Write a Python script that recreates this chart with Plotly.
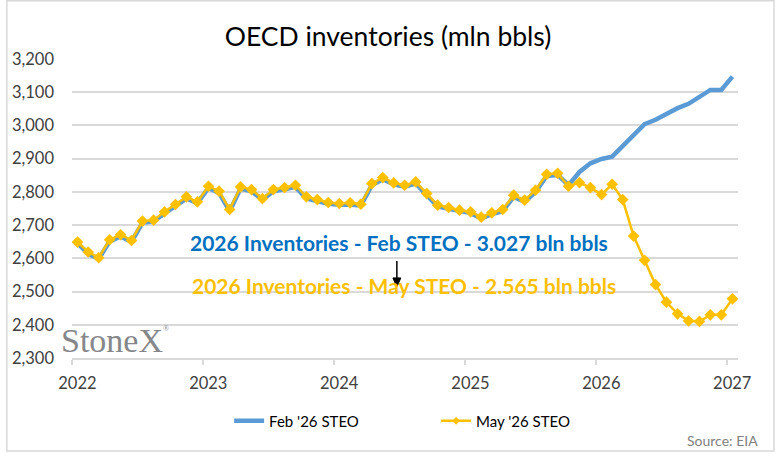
import plotly.graph_objects as go
import pandas as pd

# ---- data ----
months = pd.date_range("2022-01-01", "2027-01-01", freq="MS")

feb_steo = [2645, 2614, 2598, 2651, 2666, 2650, 2707, 2711, 2735, 2757, 2780, 2766,
            2812, 2797, 2742, 2810, 2802, 2776, 2802, 2808, 2815, 2780, 2772, 2764,
            2761, 2762, 2759, 2820, 2838, 2823, 2816, 2825, 2790, 2756, 2749, 2741,
            2736, 2720, 2733, 2742, 2785, 2770, 2800, 2848, 2851, 2820, 2860, 2886,
            2899, 2906, 2939, 2971, 3004, 3017, 3034, 3052, 3065, 3087, 3107, 3107, 3147]

may_steo = [2649, 2619, 2602, 2656, 2671, 2654, 2712, 2715, 2740, 2762, 2785, 2770,
            2817, 2802, 2747, 2815, 2807, 2780, 2807, 2813, 2820, 2785, 2777, 2768,
            2765, 2767, 2763, 2825, 2843, 2827, 2820, 2830, 2795, 2760, 2753, 2745,
            2740, 2724, 2737, 2747, 2790, 2775, 2805, 2853, 2856, 2817, 2828, 2813,
            2792, 2823, 2777, 2667, 2594, 2521, 2468, 2433, 2412, 2410, 2430, 2430, 2478]

year_labels = ["2022", "2023", "2024", "2025", "2026", "2027"]
year_label_pos = [y + "-01-16" for y in year_labels]
year_tick_pos = [y + "-01-01" for y in year_labels]

title_text = "OECD inventories (mln bbls)"
note_feb = "2026 Inventories - Feb STEO - 3.027 bln bbls"
note_may = "2026 Inventories - May STEO - 2.565 bln bbls"

FONT = "Lato"
GRID = "#d9d9d9"
BLUE = "#5B9BD5"
GOLD = "#FFC000"

# plot area in pixels
W, H = 777, 454
L, R, T, B = 66.7, 737.7, 59.3, 358.0
PW, PH = R - L, B - T


def px(x):
    return (x - L) / PW


def py(y):
    return (B - y) / PH


fig = go.Figure()
fig.add_trace(go.Scatter(
    x=months, y=feb_steo, name="Feb '26 STEO", mode="lines",
    xperiod="M1", xperiodalignment="middle",
    line=dict(color=BLUE, width=4.5),
))
fig.add_trace(go.Scatter(
    x=months, y=may_steo, name="May '26 STEO", mode="lines+markers",
    xperiod="M1", xperiodalignment="middle",
    line=dict(color=GOLD, width=2.5),
    marker=dict(symbol="diamond", size=9, color=GOLD),
    showlegend=False, legendgroup="may",
))
# legend entry for the May series with a small marker (as in the reference)
fig.add_trace(go.Scatter(
    x=[None], y=[None], name="May '26 STEO", mode="lines+markers",
    line=dict(color=GOLD, width=2.5),
    marker=dict(symbol="diamond", size=6, color=GOLD),
    legendgroup="may",
))

fig.update_layout(
    width=W, height=H,
    margin=dict(l=L, r=W - R, t=T, b=H - B, pad=0),
    paper_bgcolor="white", plot_bgcolor="white",
    font=dict(family=FONT, color="#404040"),
    title=dict(text=title_text, x=388 / W, xanchor="center",
               y=1 - 37 / H, yanchor="middle",
               font=dict(family=FONT, size=26.5, color="#000000")),
    showlegend=True,
    legend=dict(orientation="h", x=px(225), xanchor="left",
                y=py(421), yanchor="middle",
                font=dict(family=FONT, size=15, color="#000000"),
                entrywidth=162, entrywidthmode="pixels",
                bgcolor="rgba(0,0,0,0)"),
    xaxis=dict(
        type="date", range=["2022-01-01", "2027-02-01"],
        tickmode="array", tickvals=year_label_pos, ticktext=year_labels,
        ticks="", showgrid=False, zeroline=False,
        showline=True, linecolor=GRID, linewidth=1.5,
        tickfont=dict(family=FONT, size=16.5, color="#404040"),
        ticklabelstandoff=9,
        minor=dict(tickmode="array", tickvals=year_tick_pos, ticks="outside",
                   ticklen=5, tickcolor=GRID, tickwidth=1.5, showgrid=False),
    ),
    yaxis=dict(
        range=[2300, 3200], dtick=100, tickformat=",",
        showgrid=True, gridcolor=GRID, gridwidth=1.5,
        zeroline=False, showline=False, ticks="",
        tickfont=dict(family=FONT, size=16.5, color="#404040"),
        ticklabelstandoff=17,
    ),
)

fig.add_annotation(x=px(396), y=py(243), xref="paper", yref="paper",
                   text=note_feb, showarrow=False,
                   font=dict(family=FONT, size=21, color="#0070C0", weight="bold"))
fig.add_annotation(x=px(401), y=py(300), xref="paper", yref="paper",
                   text=note_may, showarrow=False,
                   font=dict(family=FONT, size=21, color=GOLD, weight="bold"))
# down arrow
fig.add_shape(type="line", xref="paper", yref="paper",
              x0=px(394), x1=px(394), y0=py(261), y1=py(279),
              line=dict(color="#000000", width=1.5))
fig.add_shape(type="path", xref="paper", yref="paper",
              path=f"M {px(390)} {py(278)} L {px(398)} {py(278)} L {px(394)} {py(287)} Z",
              fillcolor="#000000", line=dict(color="#000000", width=1))
fig.add_annotation(x=px(54), y=py(341), xref="paper", yref="paper",
                   xanchor="left", yanchor="middle",
                   text="StoneX", showarrow=False,
                   font=dict(family="Liberation Serif", size=34, color="#85878a"))
fig.add_annotation(x=px(156), y=py(329), xref="paper", yref="paper",
                   xanchor="left", yanchor="middle",
                   text="®", showarrow=False,
                   font=dict(family="Liberation Serif", size=8, color="#85878a"))
fig.add_annotation(x=px(760), y=py(440), xref="paper", yref="paper",
                   xanchor="right", yanchor="middle",
                   text="Source: EIA", showarrow=False,
                   font=dict(family=FONT, size=14, color="#7f7f7f"))

# chart border
fig.add_shape(type="rect", xref="paper", yref="paper",
              x0=px(1), x1=px(774), y0=py(451), y1=py(1),
              line=dict(color=GRID, width=1.5), fillcolor="rgba(0,0,0,0)",
              layer="below")

fig.write_html("out.html")
